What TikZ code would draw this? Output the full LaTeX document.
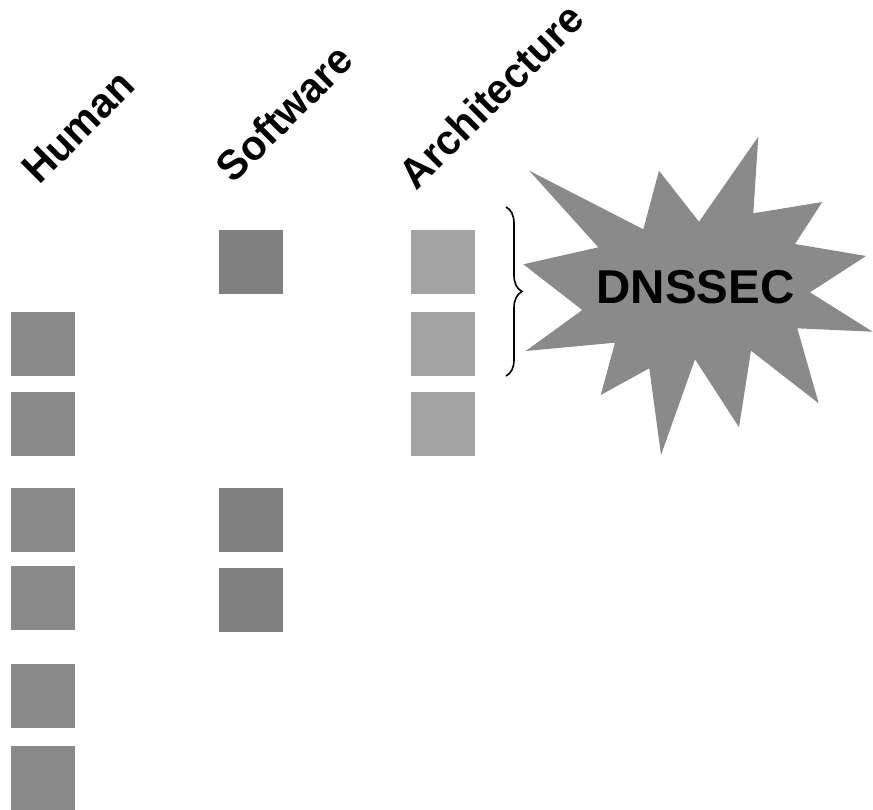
\documentclass[tikz,border=0pt]{standalone}
\usepackage{fontspec}
\setmainfont{Liberation Sans}
\usetikzlibrary{decorations.pathreplacing}

\definecolor{humancol}{HTML}{8A8A8A}
\definecolor{softcol}{HTML}{808080}
\definecolor{archcol}{HTML}{A4A4A4}
\definecolor{burstcol}{HTML}{8A8A8A}

\tikzset{
  block/.style={draw=none, minimum size=64pt, inner sep=0pt, outer sep=0pt, anchor=north west},
  humanbox/.style={block, fill=humancol},
  softbox/.style={block, fill=softcol},
  archbox/.style={block, fill=archcol},
  colhead/.style={rotate=45, inner sep=0pt, xscale=0.97, font=\bfseries\fontsize{42}{42}\selectfont},
}

\begin{document}
\begin{tikzpicture}[x=1pt, y=-1pt]
  \useasboundingbox (0,0) rectangle (873,809);

  % column headings
  \node[colhead] (hHuman) at (78,127) {Human};
  \node[colhead] (hSoft)  at (284,113) {Software};
  \node[colhead] (hArch)  at (491,96) {Architecture};

  % Human column
  \node[humanbox] (h1) at (11,312) {};
  \node[humanbox] (h2) at (11,392) {};
  \node[humanbox] (h3) at (11,488) {};
  \node[humanbox] (h4) at (11,566) {};
  \node[humanbox] (h5) at (11,664) {};
  \node[humanbox] (h6) at (11,746) {};

  % Software column
  \node[softbox] (s1) at (219,230) {};
  \node[softbox] (s2) at (219,488) {};
  \node[softbox] (s3) at (219,568) {};

  % Architecture column
  \node[archbox] (a1) at (411,230) {};
  \node[archbox] (a2) at (411,312) {};
  \node[archbox] (a3) at (411,392) {};

  % starburst
  \fill[burstcol]
    (529.3,170.7) -- (643.3,229.3) -- (659,170.7) -- (699,221.7)
    -- (758.3,136.7) -- (753.3,213.3) -- (822.3,202) -- (795,244)
    -- (866,256) -- (810,292.3) -- (872.7,331.7) -- (797.3,328.3)
    -- (818.7,403.3) -- (751,350.7) -- (739,427.3) -- (695,359.3)
    -- (661,455) -- (649.3,368.3) -- (600.7,395) -- (615,342.7)
    -- (525.7,351) -- (582.3,310) -- (523.3,264.3) -- (598.3,247.3)
    -- cycle;
  \node[inner sep=0pt, anchor=base, font=\bfseries\fontsize{47.5}{47.5}\selectfont]
    (dnssec) at (695.5,303.5) {DNSSEC};

  % brace grouping the top two architecture rows
  \coordinate (braceTop) at (506,207);
  \coordinate (braceBot) at (506,376);
  \draw[line width=1.6pt, decorate, decoration={brace, amplitude=16pt}]
    (braceTop) -- (braceBot);
\end{tikzpicture}
\end{document}
